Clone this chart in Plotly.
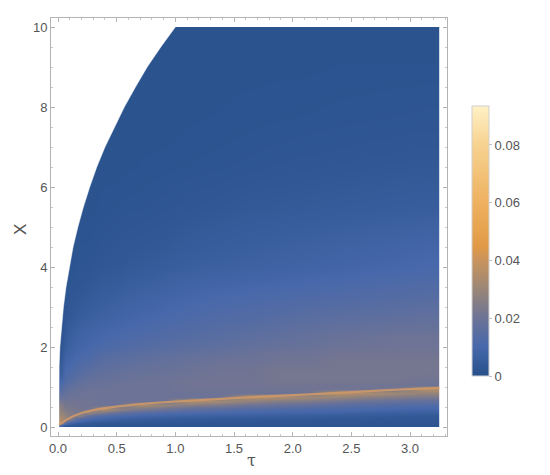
import numpy as np
import plotly.graph_objects as go

# ---- grid (cell edges) ----
tau_edges = [0.01, 0.04, 0.08, 0.14, 0.22, 0.32, 0.45, 0.6, 0.8, 1.0, 1.25, 1.5,
             1.75, 2.0, 2.25, 2.5, 2.75, 3.0, 3.25]
x_edges = [0, 0.08, 0.16, 0.24, 0.32, 0.4, 0.5, 0.6, 0.7, 0.8, 0.9, 1.0, 1.1, 1.25,
           1.5, 1.75, 2.0, 2.5, 3.0, 3.5, 4.0, 5.0, 6.0, 7.0, 8.5, 10]

# ---- estimated density values: one profile (bottom -> top) per tau cell ----
col_00 = [0.007, 0.036, 0.034, 0.031, 0.029, 0.027, 0.025, 0.022, 0.019, 0.016, 0.014, 0.012,
          0.009, 0.006, 0.004, 0.003, 0.002, 0.0015, 0.0015, 0.0015, 0.0015, 0.0015, 0.0015, 0.0015, 0.0015]
col_01 = [0.003, 0.018, 0.030, 0.028, 0.026, 0.024, 0.022, 0.021, 0.019, 0.018, 0.016, 0.015,
          0.013, 0.011, 0.009, 0.007, 0.0045, 0.003, 0.002, 0.0015, 0.0015, 0.0015, 0.0015, 0.0015, 0.0015]
col_02 = [0.0025, 0.009, 0.024, 0.025, 0.024, 0.023, 0.022, 0.021, 0.020, 0.019, 0.018, 0.016,
          0.014, 0.012, 0.010, 0.008, 0.0065, 0.004, 0.003, 0.002, 0.0015, 0.0015, 0.0015, 0.0015, 0.0015]
col_03 = [0.002, 0.006, 0.014, 0.028, 0.022, 0.022, 0.021, 0.021, 0.020, 0.020, 0.019, 0.018,
          0.017, 0.014, 0.012, 0.010, 0.008, 0.0055, 0.0035, 0.0025, 0.002, 0.0015, 0.0015, 0.0015, 0.0015]
col_04 = [0.002, 0.004, 0.010, 0.018, 0.030, 0.021, 0.021, 0.021, 0.020, 0.020, 0.020, 0.019,
          0.018, 0.016, 0.013, 0.011, 0.009, 0.0065, 0.0045, 0.003, 0.002, 0.0015, 0.0015, 0.0015, 0.0015]
col_05 = [0.002, 0.0035, 0.008, 0.0135, 0.023, 0.035, 0.020, 0.020, 0.020, 0.020, 0.020, 0.019,
          0.019, 0.017, 0.015, 0.013, 0.010, 0.0075, 0.0055, 0.004, 0.0025, 0.0018, 0.0015, 0.0015, 0.0015]
col_06 = [0.002, 0.003, 0.0065, 0.011, 0.0175, 0.028, 0.020, 0.020, 0.020, 0.020, 0.020, 0.020,
          0.019, 0.018, 0.016, 0.014, 0.011, 0.0085, 0.0065, 0.0045, 0.003, 0.002, 0.0015, 0.0015, 0.0015]
col_07 = [0.002, 0.003, 0.0055, 0.0095, 0.0145, 0.023, 0.033, 0.020, 0.020, 0.020, 0.020, 0.020,
          0.020, 0.019, 0.017, 0.015, 0.012, 0.0095, 0.0075, 0.0055, 0.0035, 0.0022, 0.0017, 0.0015, 0.0015]
col_08 = [0.002, 0.003, 0.0045, 0.0085, 0.0125, 0.020, 0.029, 0.020, 0.020, 0.020, 0.020, 0.020,
          0.020, 0.019, 0.018, 0.016, 0.013, 0.0105, 0.0085, 0.0065, 0.004, 0.0025, 0.0018, 0.0015, 0.0015]
col_09 = [0.002, 0.0028, 0.004, 0.0075, 0.0115, 0.017, 0.025, 0.035, 0.020, 0.020, 0.021, 0.021,
          0.021, 0.020, 0.019, 0.017, 0.014, 0.0115, 0.0095, 0.0075, 0.005, 0.003, 0.002, 0.0016, 0.0015]
col_10 = [0.002, 0.0027, 0.004, 0.007, 0.0105, 0.015, 0.023, 0.032, 0.020, 0.020, 0.021, 0.021,
          0.021, 0.021, 0.020, 0.018, 0.015, 0.0125, 0.0105, 0.008, 0.0055, 0.0035, 0.0022, 0.0017, 0.0015]
col_11 = [0.002, 0.0026, 0.0038, 0.0065, 0.0095, 0.013, 0.020, 0.028, 0.036, 0.020, 0.021, 0.021,
          0.021, 0.021, 0.020, 0.019, 0.016, 0.013, 0.011, 0.0085, 0.006, 0.004, 0.0025, 0.0018, 0.0015]
col_12 = [0.002, 0.0025, 0.0036, 0.006, 0.009, 0.0125, 0.0185, 0.025, 0.034, 0.020, 0.021, 0.021,
          0.022, 0.022, 0.021, 0.020, 0.017, 0.014, 0.0115, 0.009, 0.0065, 0.0042, 0.0028, 0.0019, 0.0015]
col_13 = [0.002, 0.0025, 0.0035, 0.0055, 0.0085, 0.0115, 0.017, 0.024, 0.031, 0.020, 0.021, 0.021,
          0.022, 0.022, 0.021, 0.020, 0.018, 0.015, 0.012, 0.0095, 0.007, 0.0045, 0.003, 0.002, 0.0015]
col_14 = [0.002, 0.0024, 0.0033, 0.005, 0.008, 0.011, 0.0155, 0.0215, 0.029, 0.036, 0.021, 0.021,
          0.022, 0.022, 0.022, 0.021, 0.019, 0.0155, 0.0125, 0.010, 0.0075, 0.0048, 0.0032, 0.0021, 0.0016]
col_15 = [0.002, 0.0024, 0.0032, 0.0045, 0.007, 0.0105, 0.014, 0.0195, 0.026, 0.034, 0.021, 0.021,
          0.022, 0.022, 0.022, 0.021, 0.0195, 0.016, 0.013, 0.0105, 0.008, 0.005, 0.0034, 0.0022, 0.0016]
col_16 = [0.002, 0.0023, 0.003, 0.0042, 0.0065, 0.0098, 0.013, 0.018, 0.0245, 0.031, 0.021, 0.021,
          0.022, 0.022, 0.022, 0.021, 0.020, 0.0165, 0.0135, 0.011, 0.0085, 0.0053, 0.0036, 0.0023, 0.0016]
col_17 = [0.0018, 0.0022, 0.003, 0.004, 0.006, 0.009, 0.0125, 0.017, 0.023, 0.029, 0.035, 0.020,
          0.021, 0.022, 0.022, 0.021, 0.020, 0.017, 0.014, 0.0115, 0.009, 0.0055, 0.0038, 0.0024, 0.0016]

columns = [col_00, col_01, col_02, col_03, col_04, col_05, col_06, col_07, col_08,
           col_09, col_10, col_11, col_12, col_13, col_14, col_15, col_16, col_17]

# ---- bright ridge ----
ridge_tau = [0.01, 0.025, 0.05, 0.09, 0.13, 0.20, 0.30, 0.53, 0.81, 1.24, 1.66, 2.23, 2.80, 3.25]
ridge_x = [0.05, 0.09, 0.14, 0.21, 0.27, 0.35, 0.42, 0.52, 0.60, 0.68, 0.75, 0.83, 0.92, 0.98]

# ---- outer edge of the plotted domain ----
edge_tau = [0.0, 0.0005, 0.0027, 0.0077, 0.016, 0.029, 0.046, 0.068, 0.095, 0.128, 0.169,
            0.216, 0.27, 0.33, 0.40, 0.48, 0.565, 0.66, 0.76, 0.876, 1.0, 1.0, 0.0]
edge_x = [0, 0.5, 1, 1.5, 2, 2.5, 3, 3.5, 4, 4.5, 5, 5.5, 6, 6.5, 7, 7.5, 8, 8.5, 9, 9.5, 10, 10.3, 10.3]

tau_ticks = [0.0, 0.5, 1.0, 1.5, 2.0, 2.5, 3.0]
x_ticks = [0, 2, 4, 6, 8, 10]
cb_ticks = [0, 0.02, 0.04, 0.06, 0.08]
z_max = 0.0935

colorscale = [[0.0, '#26508a'], [0.107, '#4768ab'], [0.214, '#6c7396'], [0.321, '#9a8677'],
              [0.428, '#c8935d'], [0.481, '#e29a46'], [0.642, '#eeb160'], [0.856, '#f7d290'],
              [1.0, '#fff1c6']]

z = np.array(columns).T

GRAY = '#555555'
FONT = 'Liberation Sans, Arial, sans-serif'

fig = go.Figure()
fig.add_trace(go.Heatmap(
    x=tau_edges, y=x_edges, z=z, zsmooth='best', zmin=0, zmax=z_max,
    colorscale=colorscale, hoverinfo='skip',
    colorbar=dict(x=(464 - 43) / 396, xanchor='left', xpad=0, ypad=0,
                  y=(428 - 233) / 418, yanchor='middle',
                  thickness=17, len=270, lenmode='pixels',
                  outlinewidth=1, outlinecolor='#d0d0d0',
                  tickvals=cb_ticks, ticktext=['0', '0.02', '0.04', '0.06', '0.08'],
                  ticks='outside', ticklen=3, tickcolor='#c0c0c0',
                  tickfont=dict(family=FONT, size=13, color=GRAY)),
))
fig.add_trace(go.Scatter(
    x=ridge_tau, y=ridge_x, mode='lines',
    line=dict(color='rgba(205,152,104,0.9)', width=2.2, shape='spline', smoothing=0.8),
    hoverinfo='skip', showlegend=False))
fig.add_trace(go.Scatter(
    x=edge_tau, y=edge_x, mode='lines', fill='toself', fillcolor='white',
    line=dict(color='white', width=0.5), hoverinfo='skip', showlegend=False))

axis_common = dict(showline=True, mirror='allticks', linecolor='#b4b4b4', linewidth=1,
                   ticks='inside', ticklen=4, tickcolor='#b4b4b4', showgrid=False, zeroline=False,
                   tickfont=dict(family=FONT, size=13, color=GRAY), automargin=False)

fig.update_layout(
    width=550, height=475,
    margin=dict(l=43, r=111, t=10, b=47),
    paper_bgcolor='white', plot_bgcolor='white',
    showlegend=False,
    xaxis=dict(range=[-0.06, 3.315], tickvals=tau_ticks,
               ticktext=['0.0', '0.5', '1.0', '1.5', '2.0', '2.5', '3.0'],
               minor=dict(dtick=0.1, tick0=0, ticks='inside', ticklen=2, tickcolor='#c8c8c8'),
               **axis_common),
    yaxis=dict(range=[-0.225, 10.225], tickvals=x_ticks,
               minor=dict(dtick=0.5, tick0=0, ticks='inside', ticklen=2, tickcolor='#c8c8c8'),
               **axis_common),
    annotations=[
        dict(text='τ', xref='paper', yref='paper', x=(243 - 43) / 396, y=(428 - 453) / 418,
             xanchor='center', yanchor='middle', showarrow=False,
             font=dict(family='DejaVu Serif, serif', size=16, color=GRAY)),
        dict(text='X', xref='paper', yref='paper', x=(12 - 43) / 396, y=(428 - 222) / 418,
             xanchor='center', yanchor='middle', showarrow=False, textangle=-90,
             font=dict(family=FONT, size=17, color=GRAY)),
    ],
)

fig.write_html('out.html')
